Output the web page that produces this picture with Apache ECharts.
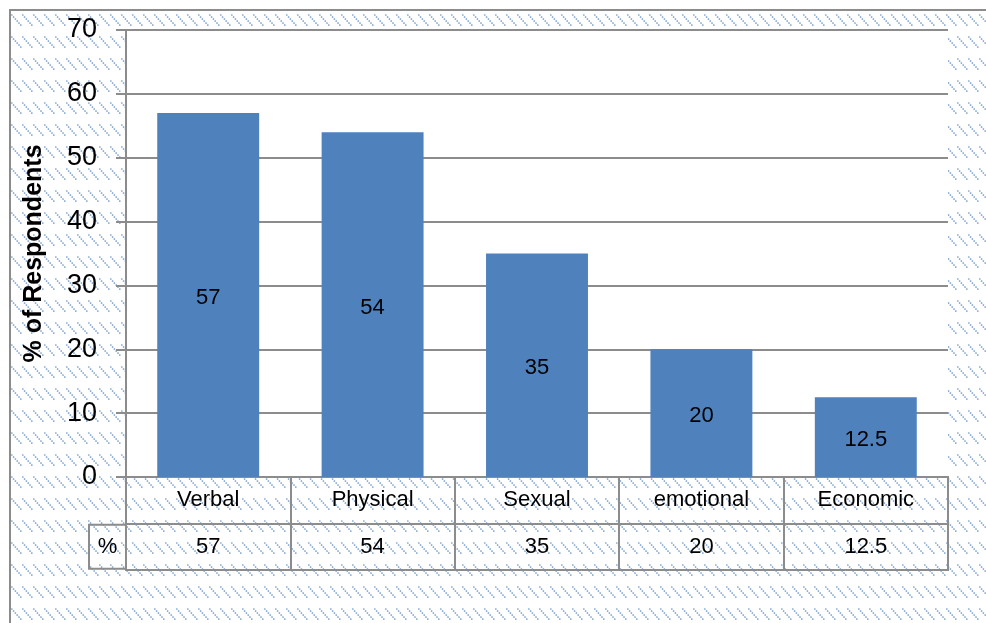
<!DOCTYPE html>
<html>
<head>
<meta charset="utf-8">
<script src="https://cdn.jsdelivr.net/npm/echarts@6/dist/echarts.min.js"></script>
<style>
html,body{margin:0;padding:0;background:#fff;}
#c{width:986px;height:623px;}
</style>
</head>
<body>
<div id="c"></div>
<script>
// ---- data ----
const categories = ['Verbal', 'Physical', 'Sexual', 'emotional', 'Economic'];
const values = [57, 54, 35, 20, 12.5];
const yAxisTitle = '% of Respondents';
const tableRowLabel = '%';
const tableRows = ['%', 'name'];
const yMin = 0, yMax = 70, yStep = 10;

// ---- hatch pattern tile ----
const tile = document.createElement('canvas');
tile.width = 11; tile.height = 22;
const g = tile.getContext('2d');
g.fillStyle = 'rgba(79,129,189,0.85)';
[15, 15 - 22].forEach(function (y0) {
  for (let k = 0; k <= 5; k++) {
    g.beginPath();
    g.arc(0.8 + k * 1.8, y0 + k * 2.0, 0.85, 0, Math.PI * 2);
    g.fill();
  }
});

const GREY = '#8c8c8c';
const txtFont = 'Liberation Sans, Arial, sans-serif';

const chart = echarts.init(document.getElementById('c'), null, {renderer: 'canvas'});
chart.setOption({
  animation: false,
  backgroundColor: '#fff',
  graphic: [{
    type: 'rect', z: -10, silent: true,
    shape: {x: 10, y: 10, width: 1100, height: 800},
    style: {fill: {image: tile, repeat: 'repeat'}, stroke: GREY, lineWidth: 2}
  }],
  grid: [
    {left: 126, right: 38, top: 30, bottom: 146, show: true, backgroundColor: '#fff', borderWidth: 0},
    {left: 126, right: 38, top: 477, bottom: 53, show: true, backgroundColor: 'transparent', borderColor: GREY, borderWidth: 2}
  ],
  xAxis: [
    {type: 'category', gridIndex: 0, data: categories, axisLine: {show: false}, axisTick: {show: false}, axisLabel: {show: false}},
    {type: 'category', gridIndex: 1, data: categories, axisLine: {show: false}, axisTick: {show: false}, axisLabel: {show: false},
     splitLine: {show: true, interval: 0, lineStyle: {color: GREY, width: 2}}}
  ],
  yAxis: [
    {type: 'value', gridIndex: 0, min: yMin, max: yMax, interval: yStep,
     name: yAxisTitle, nameLocation: 'middle', nameGap: 79, nameRotate: 90,
     nameTextStyle: {fontFamily: txtFont, fontSize: 25, fontWeight: 'bold', color: '#000'},
     axisLine: {show: true, lineStyle: {color: GREY, width: 2}},
     axisTick: {show: true, length: 10, lineStyle: {color: GREY, width: 2}},
     axisLabel: {margin: 29, fontFamily: 'Liberation Sans Narrow, Arial Narrow, Liberation Sans, sans-serif', fontSize: 27, color: '#000'},
     splitLine: {show: true, lineStyle: {color: GREY, width: 2}}},
    {type: 'category', gridIndex: 1, data: tableRows,
     axisLine: {show: false}, axisTick: {show: false},
     splitLine: {show: true, interval: 0, lineStyle: {color: GREY, width: 2}},
     axisLabel: {margin: 0, interval: 0,
       formatter: function (v) { return v === tableRowLabel ? '{b|' + tableRowLabel + '}' : ''; },
       rich: {b: {width: 37, height: 44, lineHeight: 44, align: 'center', verticalAlign: 'middle',
                  borderColor: GREY, borderWidth: 2, fontFamily: txtFont, fontSize: 22, color: '#000'}}}}
  ],
  series: [
    {type: 'bar', xAxisIndex: 0, yAxisIndex: 0, data: values, barWidth: '62%',
     itemStyle: {color: '#4F81BD'},
     label: {show: true, position: 'inside', offset: [0, 3], fontFamily: txtFont, fontSize: 22, color: '#000'}},
    {type: 'scatter', xAxisIndex: 1, yAxisIndex: 1, symbolSize: 0, silent: true,
     itemStyle: {opacity: 1},
     data: categories.map(function (c) { return [c, 'name', c]; }),
     label: {show: true, position: 'inside', formatter: function (p) { return p.data[2]; },
             fontFamily: txtFont, fontSize: 22, color: '#000', opacity: 1}},
    {type: 'scatter', xAxisIndex: 1, yAxisIndex: 1, symbolSize: 0, silent: true,
     itemStyle: {opacity: 1},
     data: categories.map(function (c, i) { return [c, tableRowLabel, values[i]]; }),
     label: {show: true, position: 'inside', formatter: function (p) { return String(p.data[2]); },
             fontFamily: txtFont, fontSize: 22, color: '#000', opacity: 1}}
  ]
});
</script>
</body>
</html>
